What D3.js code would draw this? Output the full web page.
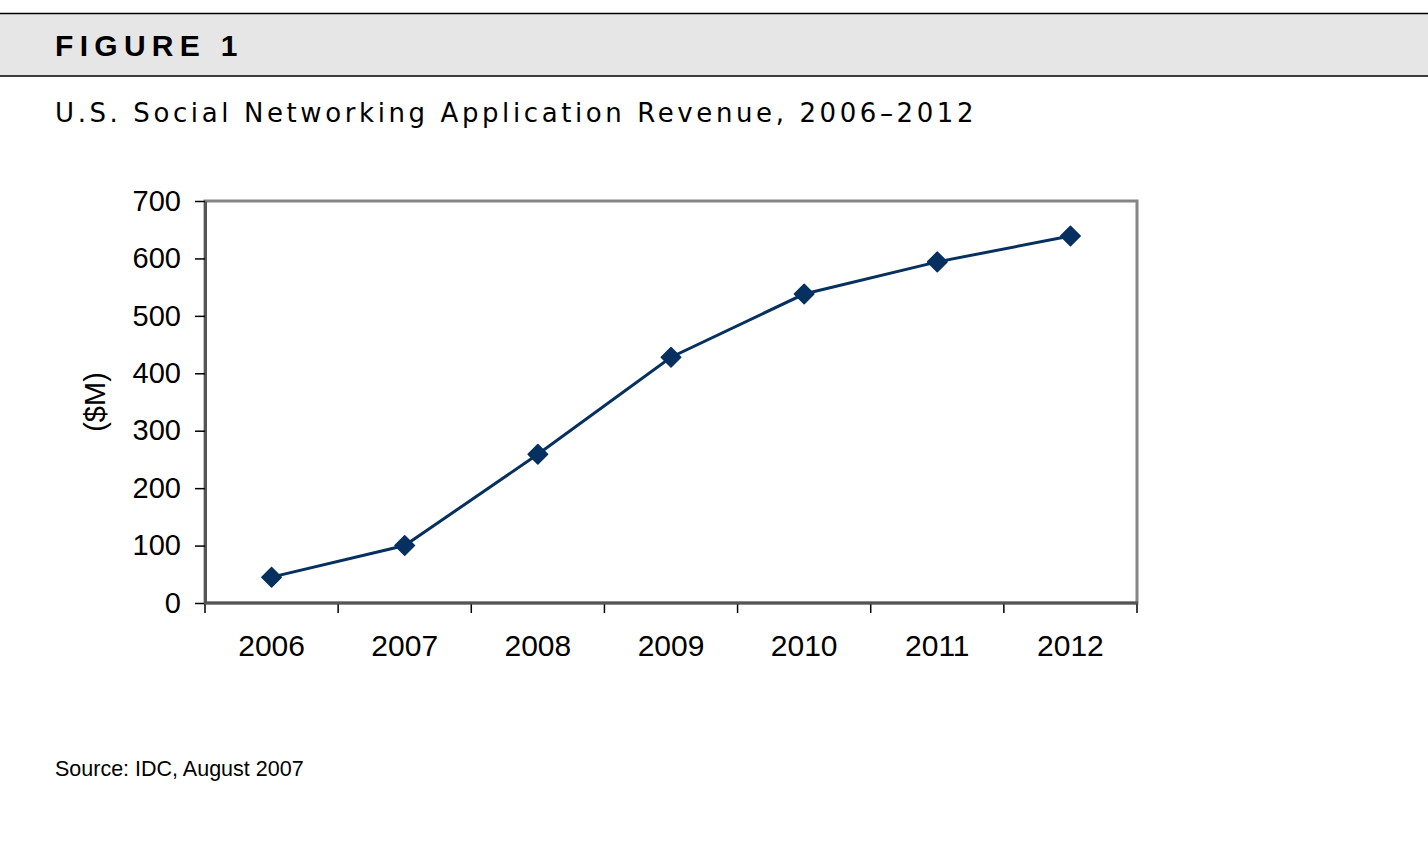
<!DOCTYPE html>
<html><head><meta charset="utf-8">
<script src="https://cdn.jsdelivr.net/npm/d3@7"></script>
<style>body{margin:0;background:#fff;}svg{display:block;}</style>
</head><body>
<svg id="c" width="1428" height="844"></svg>
<script>
const years = ["2006","2007","2008","2009","2010","2011","2012"];
const revenue = [45, 100, 259, 428, 538, 594, 639];
const yTicks = [0,100,200,300,400,500,600,700];

const svg = d3.select("#c");
// header band
svg.append("rect").attr("x",0).attr("y",13).attr("width",1428).attr("height",63).attr("fill","#e6e6e6");
svg.append("line").attr("x1",0).attr("x2",1428).attr("y1",13.5).attr("y2",13.5).attr("stroke","#000").attr("stroke-width",1.5);
svg.append("line").attr("x1",0).attr("x2",1428).attr("y1",76).attr("y2",76).attr("stroke","#000").attr("stroke-width",1.5);
svg.append("text").attr("x",55).attr("y",56).text("FIGURE 1")
  .attr("font-family","Liberation Sans, Arial, sans-serif").attr("font-weight","bold").attr("font-size",30).attr("letter-spacing",6.3).attr("fill","#000");
svg.append("text").attr("x",55).attr("y",122).text("U.S. Social Networking Application Revenue, 2006\u20132012")
  .attr("font-family","DejaVu Sans, Verdana, sans-serif").attr("font-size",26).attr("letter-spacing",3.6).attr("fill","#000");
svg.append("text").attr("x",55).attr("y",776).text("Source: IDC, August 2007")
  .attr("font-family","Liberation Sans, Arial, sans-serif").attr("font-size",21.5).attr("fill","#000");

const L=205, R=1137, T=201, B=603;
const x = d3.scaleBand().domain(years).range([L,R]);
const y = d3.scaleLinear().domain([0,700]).range([B,T]);

// plot border (gray top/right)
svg.append("rect").attr("x",L).attr("y",T).attr("width",R-L).attr("height",B-T)
  .attr("fill","#fff").attr("stroke","#858585").attr("stroke-width",3);

const font = "Liberation Sans, Arial, sans-serif";
const yAxis = svg.append("g").attr("transform",`translate(${L},0)`)
  .call(d3.axisLeft(y).tickValues(yTicks).tickSize(10).tickPadding(14).tickSizeOuter(0));
yAxis.select(".domain").attr("stroke","#555").attr("stroke-width",3);
yAxis.selectAll(".tick line").attr("stroke","#000").attr("stroke-width",1.5);
yAxis.selectAll("text").attr("font-family",font).attr("font-size",29).attr("fill","#000");

const xAxis = svg.append("g").attr("transform",`translate(0,${B})`)
  .call(d3.axisBottom(x).tickSize(0).tickPadding(32));
xAxis.select(".domain").remove();
xAxis.selectAll("text").attr("font-family",font).attr("font-size",30).attr("fill","#000");
const bounds = years.map(d=>x(d)).concat([x(years[years.length-1])+x.bandwidth()]);
svg.append("g").selectAll("line").data(bounds).join("line")
  .attr("x1",d=>d).attr("x2",d=>d).attr("y1",B).attr("y2",B+10).attr("stroke","#000").attr("stroke-width",1.5);
svg.append("line").attr("x1",L-1).attr("x2",R+1).attr("y1",B).attr("y2",B).attr("stroke","#555").attr("stroke-width",3);

svg.append("text").attr("transform",`translate(105,402) rotate(-90)`).attr("text-anchor","middle")
  .attr("font-family",font).attr("font-size",29).text("($M)");

const cx = (d,i)=>x(years[i])+x.bandwidth()/2;
const color = "#06305f";
svg.append("path").datum(revenue)
  .attr("d", d3.line().x((d,i)=>cx(d,i)).y(d=>y(d)))
  .attr("fill","none").attr("stroke",color).attr("stroke-width",3);
svg.append("g").selectAll("path").data(revenue).join("path")
  .attr("d", d3.symbol(d3.symbolSquare, 190)())
  .attr("transform",(d,i)=>`translate(${cx(d,i)},${y(d)}) rotate(45)`)
  .attr("fill",color).attr("stroke",color).attr("stroke-width",1.5).attr("stroke-linejoin","round");
</script>
</body></html>
